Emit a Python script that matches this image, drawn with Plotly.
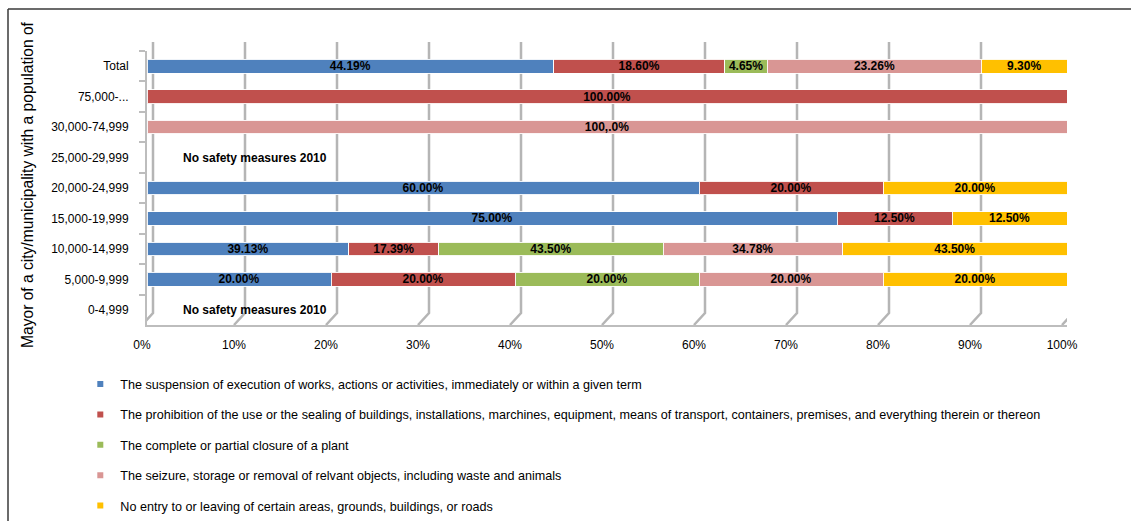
import plotly.graph_objects as go

# Population classes, listed top to bottom
categories = ["Total", "75,000-...", "30,000-74,999", "25,000-29,999", "20,000-24,999",
              "15,000-19,999", "10,000-14,999", "5,000-9,999", "0-4,999"]

series_names = [
    "The suspension of execution of works, actions or activities, immediately or within a given term",
    "The prohibition of the use or the sealing of buildings, installations, marchines, equipment, means of transport, containers, premises, and everything therein or thereon",
    "The complete or partial closure of a plant",
    "The seizure, storage or removal of relvant objects, including waste and animals",
    "No entry to or leaving of certain areas, grounds, buildings, or roads",
]
series_colors = ["#4F81BD", "#C0504D", "#9BBB59", "#D99694", "#FFC000"]

# Shares per measure (None = not applied)
suspension = [44.19, None, None, None, 60.00, 75.00, 39.13, 20.00, None]
prohibition = [18.60, 100.00, None, None, 20.00, 12.50, 17.39, 20.00, None]
closure = [4.65, None, None, None, None, None, 43.50, 20.00, None]
seizure = [23.26, None, 100.0, None, None, None, 34.78, 20.00, None]
no_entry = [9.30, None, None, None, 20.00, 12.50, 43.50, 20.00, None]

suspension_labels = ["44.19%", "", "", "", "60.00%", "75.00%", "39.13%", "20.00%", ""]
prohibition_labels = ["18.60%", "100.00%", "", "", "20.00%", "12.50%", "17.39%", "20.00%", ""]
closure_labels = ["4.65%", "", "", "", "", "", "43.50%", "20.00%", ""]
seizure_labels = ["23.26%", "", "100,.0%", "", "", "", "34.78%", "20.00%", ""]
no_entry_labels = ["9.30%", "", "", "", "20.00%", "12.50%", "43.50%", "20.00%", ""]

empty_rows = ["25,000-29,999", "0-4,999"]
empty_note = "No safety measures 2010"

y_title = "Mayor of a city/municipality with a population of"

x_ticks = [0, 10, 20, 30, 40, 50, 60, 70, 80, 90, 100]
x_tick_text = [f"{t}%" for t in x_ticks]

values = [suspension, prohibition, closure, seizure, no_entry]
labels = [suspension_labels, prohibition_labels, closure_labels, seizure_labels, no_entry_labels]

W, H = 1131, 521
M_L, M_R, M_T, M_B = 147, 64, 51, 196
PW, PH = W - M_L - M_R, H - M_T - M_B

FONT = "Liberation Sans, Arial, sans-serif"


def px_to_paper_x(px):
    return (px - M_L) / PW


def px_to_paper_y(py):
    return (H - M_B - py) / PH


fig = go.Figure()

for name, color, vals, labs in zip(series_names, series_colors, values, labels):
    fig.add_trace(go.Bar(
        y=categories, x=vals, orientation="h", name=name,
        marker=dict(color=color, line=dict(color="rgba(255,255,255,0.9)", width=1)),
        text=labs, textposition="inside", insidetextanchor="middle", textangle=0,
        textfont=dict(family=FONT, size=12, color="black", weight="bold"),
        showlegend=False, hoverinfo="x+y",
    ))

# legend entries with small square swatches
for i, (name, color) in enumerate(zip(series_names, series_colors)):
    fig.add_trace(go.Scatter(
        x=[None], y=[None], mode="markers", name=name,
        marker=dict(symbol="square", size=6, color=color),
        legendgroup=f"g{i}", showlegend=True,
    ))

for row in empty_rows:
    fig.add_annotation(x=11.7, y=row, xref="x", yref="y", text=f"<b>{empty_note}</b>",
                       showarrow=False, font=dict(family=FONT, size=12, color="black"))

# vertical axis title
fig.add_annotation(x=px_to_paper_x(27), y=px_to_paper_y(185), xref="paper", yref="paper",
                   text=y_title, textangle=-90, showarrow=False,
                   xanchor="center", yanchor="middle",
                   font=dict(family=FONT, size=15.6, color="black"))

# back-wall gridlines with a short floor diagonal, offset for the 3-D look
shapes = []
for t in x_ticks:
    shapes.append(dict(
        type="path", xref="x", yref="paper", xsizemode="pixel", ysizemode="pixel",
        xanchor=t, yanchor=0, path="M-5,0 L6,12 L6,283",
        line=dict(color="#b5b5b5", width=2.5), layer="below",
    ))

# outer frame
shapes.append(dict(type="line", xref="paper", yref="paper",
                   x0=px_to_paper_x(8), x1=px_to_paper_x(W + 5),
                   y0=px_to_paper_y(9), y1=px_to_paper_y(9),
                   line=dict(color="#3a3a3a", width=1.5)))
shapes.append(dict(type="line", xref="paper", yref="paper",
                   x0=px_to_paper_x(8), x1=px_to_paper_x(8),
                   y0=px_to_paper_y(9), y1=px_to_paper_y(H + 5),
                   line=dict(color="#3a3a3a", width=1.5)))

fig.update_layout(
    width=W, height=H,
    margin=dict(l=M_L, r=M_R, t=M_T, b=M_B, pad=0, autoexpand=False),
    barmode="stack", barnorm="percent", bargap=0.55,
    plot_bgcolor="white", paper_bgcolor="white",
    font=dict(family=FONT, size=12, color="black"),
    uniformtext=dict(minsize=12, mode="show"),
    shapes=shapes,
    legend=dict(
        xref="container", yref="container", x=0.071, y=0.291,
        xanchor="left", yanchor="top", orientation="v",
        traceorder="grouped", tracegroupgap=11,
        font=dict(family=FONT, size=12.6, color="black"),
        bgcolor="rgba(0,0,0,0)",
    ),
    xaxis=dict(
        range=[0, 100], tickvals=x_ticks, ticktext=x_tick_text, automargin=False,
        showgrid=False, zeroline=False, showline=True, linecolor="#bdbdbd", linewidth=2,
        ticks="", tickfont=dict(family=FONT, size=12, color="black"),
        ticklabelshift=-5, ticklabelstandoff=8,
    ),
    yaxis=dict(
        categoryorder="array", categoryarray=categories, autorange="reversed",
        automargin=False,
        showgrid=False, zeroline=False, showline=True, linecolor="#bdbdbd", linewidth=2,
        ticks="outside", tickson="boundaries", ticklen=6, tickcolor="#bdbdbd", tickwidth=2,
        tickfont=dict(family=FONT, size=12, color="black"), ticklabelstandoff=14,
    ),
)

fig.write_html("out.html")
